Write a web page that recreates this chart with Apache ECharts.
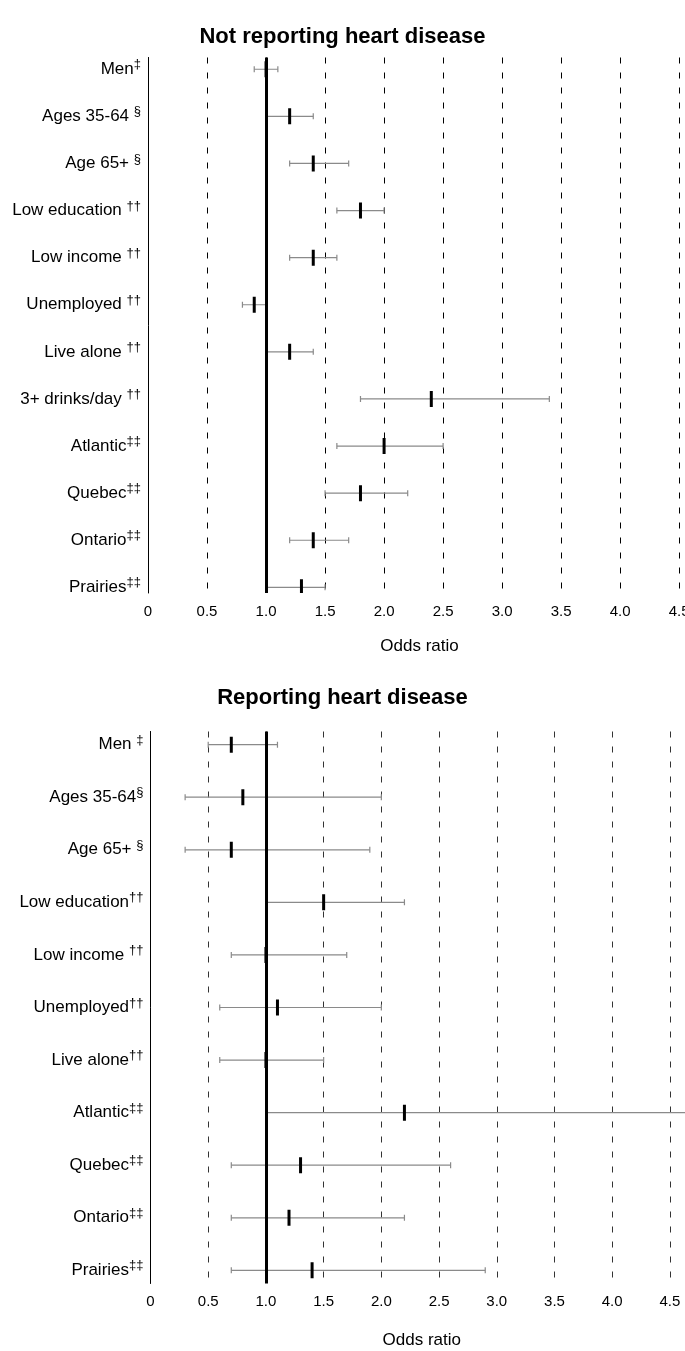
<!DOCTYPE html>
<html>
<head>
<meta charset="utf-8">
<script src="https://cdn.jsdelivr.net/npm/echarts@6/dist/echarts.min.js"></script>
<style>
  html, body { margin: 0; padding: 0; background: #fff; }
  #main { width: 685px; height: 1351px; }
</style>
</head>
<body>
<div id="main"></div>
<script>
// odds ratios with 95% CI
const topCategories = ['Men', 'Ages 35-64 ', 'Age 65+ ', 'Low education ', 'Low income ', 'Unemployed ', 'Live alone ', '3+ drinks/day ', 'Atlantic', 'Quebec', 'Ontario', 'Prairies'];
const topNotes = ['‡', '§', '§', '††', '††', '††', '††', '††', '‡‡', '‡‡', '‡‡', '‡‡'];
const topOdds  = [1.0, 1.2, 1.4, 1.8, 1.4, 0.9, 1.2, 2.4, 2.0, 1.8, 1.4, 1.3];
const topLower = [0.9, 1.0, 1.2, 1.6, 1.2, 0.8, 1.0, 1.8, 1.6, 1.5, 1.2, 1.0];
const topUpper = [1.1, 1.4, 1.7, 2.0, 1.6, 1.0, 1.4, 3.4, 2.5, 2.2, 1.7, 1.5];

const bottomCategories = ['Men ', 'Ages 35-64', 'Age 65+ ', 'Low education', 'Low income ', 'Unemployed', 'Live alone', 'Atlantic', 'Quebec', 'Ontario', 'Prairies'];
const bottomNotes = ['‡', '§', '§', '††', '††', '††', '††', '‡‡', '‡‡', '‡‡', '‡‡'];
const bottomOdds  = [0.7, 0.8, 0.7, 1.5, 1.0, 1.1, 1.0, 2.2, 1.3, 1.2, 1.4];
const bottomLower = [0.5, 0.3, 0.3, 1.0, 0.7, 0.6, 0.6, 1.0, 0.7, 0.7, 0.7];
const bottomUpper = [1.1, 2.0, 1.9, 2.2, 1.7, 2.0, 1.5, 4.8, 2.6, 2.2, 2.9];

const refLine = 1;

const font = '"Liberation Sans", Arial, sans-serif';

const chart = echarts.init(document.getElementById('main'));

function makeY(cats, notes, gridIndex, max) {
  return {
    type: 'value',
    gridIndex: gridIndex,
    inverse: true,
    min: -0.25,
    max: max,
    axisLine: { show: true, lineStyle: { color: '#000', width: 1 } },
    axisTick: { show: false },
    splitLine: { show: false },
    axisLabel: {
      customValues: cats.map((c, i) => i),
      margin: 7,
      formatter: function (v) {
        const i = Math.round(v);
        return '{a|' + cats[i] + '}{s|' + notes[i] + '}';
      },
      rich: {
        a: { fontFamily: font, fontSize: 17, color: '#000', lineHeight: 22 },
        s: { fontFamily: font, fontSize: 13, color: '#000', lineHeight: 11, verticalAlign: 'top' }
      }
    }
  };
}

function makeX(gridIndex, max, color, nameGap) {
  return {
    type: 'value',
    gridIndex: gridIndex,
    min: 0,
    max: max,
    interval: 0.5,
    axisLine: { show: false },
    axisTick: { show: false },
    splitLine: { show: true, lineStyle: { color: color, width: 1, type: [6, 9] } },
    axisLabel: {
      color: '#000',
      fontFamily: font,
      fontSize: 15,
      margin: 11,
      showMaxLabel: false,
      formatter: function (v) {
        if (v === 0) return '0';
        if (v > 4.5) return '';
        return v.toFixed(1);
      }
    },
    name: 'Odds ratio',
    nameLocation: 'middle',
    nameGap: nameGap,
    nameTextStyle: { fontFamily: font, fontSize: 17, color: '#000' }
  };
}

function errorBars(params, api) {
  const row = api.value(3);
  const mid = api.coord([api.value(0), row]);
  const lo = api.coord([api.value(1), row]);
  const hi = api.coord([api.value(2), row]);
  const cap = 3, half = 8;
  const grey = { stroke: '#8a8a8a', lineWidth: 1.2 };
  return {
    type: 'group',
    children: [
      { type: 'line', shape: { x1: lo[0], y1: lo[1], x2: hi[0], y2: hi[1] }, style: grey },
      { type: 'line', shape: { x1: lo[0], y1: lo[1] - cap, x2: lo[0], y2: lo[1] + cap }, style: grey },
      { type: 'line', shape: { x1: hi[0], y1: hi[1] - cap, x2: hi[0], y2: hi[1] + cap }, style: grey },
      { type: 'rect', shape: { x: mid[0] - 1.5, y: mid[1] - half, width: 3, height: half * 2 }, style: { fill: '#000' } }
    ]
  };
}

function toRows(odds, lower, upper) {
  return odds.map((v, i) => [v, lower[i], upper[i], i]);
}

const refMark = {
  silent: true,
  symbol: 'none',
  label: { show: false },
  lineStyle: { color: '#000', width: 3, type: 'solid' },
  data: [{ xAxis: refLine }]
};

chart.setOption({
  animation: false,
  backgroundColor: '#fff',
  title: [
    {
      text: 'Not reporting heart disease', left: 'center', top: 21,
      textStyle: { fontFamily: font, fontWeight: 'bold', fontSize: 22, color: '#000' }
    },
    {
      text: 'Reporting heart disease', left: 'center', top: 682,
      textStyle: { fontFamily: font, fontWeight: 'bold', fontSize: 22, color: '#000' }
    }
  ],
  grid: [
    { left: 148, right: -6, top: 57.5, height: 535.5, outerBoundsMode: 'none' },
    { left: 150.5, right: -8, top: 731.5, height: 552, outerBoundsMode: 'none' }
  ],
  xAxis: [
    makeX(0, 4.6, '#000', 45),
    makeX(1, 4.7, '#333', 48)
  ],
  yAxis: [
    makeY(topCategories, topNotes, 0, 11.12),
    makeY(bottomCategories, bottomNotes, 1, 10.25)
  ],
  series: [
    {
      type: 'custom',
      xAxisIndex: 0, yAxisIndex: 0,
      clip: true,
      renderItem: errorBars,
      encode: { x: [0, 1, 2], y: 3 },
      data: toRows(topOdds, topLower, topUpper),
      markLine: refMark
    },
    {
      type: 'custom',
      xAxisIndex: 1, yAxisIndex: 1,
      clip: true,
      renderItem: errorBars,
      encode: { x: [0, 1, 2], y: 3 },
      data: toRows(bottomOdds, bottomLower, bottomUpper),
      markLine: refMark
    }
  ]
});
</script>
</body>
</html>
